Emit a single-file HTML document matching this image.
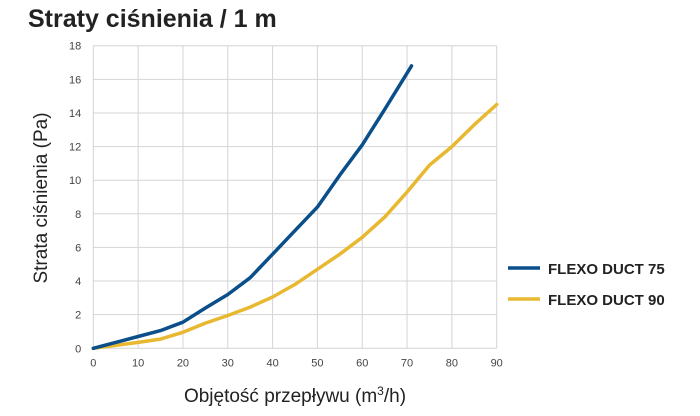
<!DOCTYPE html>
<html><head><meta charset="utf-8"><style>
body{margin:0;background:#fff;font-family:"Liberation Sans",sans-serif}
</style></head><body>
<svg width="700" height="411" xmlns="http://www.w3.org/2000/svg" font-family="Liberation Sans, sans-serif">
<text x="28" y="27" font-size="25" font-weight="bold" fill="#222">Straty ciśnienia / 1 m</text>
<g id="grid"></g>
<g id="ticks"></g>
<g id="series"></g>
<text transform="translate(47,198) rotate(-90)" text-anchor="middle" font-size="19" fill="#222">Strata ciśnienia (Pa)</text>
<text x="295" y="402" text-anchor="middle" font-size="19" fill="#222">Objętość przepływu (m<tspan font-size="12" dy="-7">3</tspan><tspan dy="7">/h)</tspan></text>
<g>
<line x1="508" y1="268" x2="540" y2="268" stroke="#0b4f8a" stroke-width="3.5"/>
<text x="548" y="274" font-size="15" font-weight="bold" fill="#222">FLEXO DUCT 75</text>
<line x1="508" y1="299" x2="540" y2="299" stroke="#e8b830" stroke-width="3.5"/>
<text x="548" y="305" font-size="15" font-weight="bold" fill="#222">FLEXO DUCT 90</text>
</g>
</svg>
<script>
const xTicks=[0,10,20,30,40,50,60,70,80,90];
const yTicks=[0,2,4,6,8,10,12,14,16,18];
const x75=[0,10,15,20,25,30,35,40,45,50,55,60,65,71];
const y75=[0,0.7,1.05,1.55,2.4,3.2,4.2,5.6,7.0,8.4,10.3,12.1,14.2,16.8];
const x90=[0,10,15,20,25,30,35,40,45,50,55,60,65,70,75,80,85,90];
const y90=[0,0.35,0.55,0.95,1.5,1.95,2.45,3.05,3.8,4.7,5.6,6.6,7.8,9.3,10.9,12.0,13.3,14.5];
const NS="http://www.w3.org/2000/svg";
const X=v=>93.3+v*(496.7-93.3)/90;
const Y=v=>348.3-v*(348.3-45.7)/18;
const grid=document.getElementById('grid'),ticks=document.getElementById('ticks'),series=document.getElementById('series');
function mk(t,a,p){const e=document.createElementNS(NS,t);for(const k in a)e.setAttribute(k,a[k]);p.appendChild(e);return e;}
xTicks.forEach(v=>{
 const l=mk('line',{x1:X(v),x2:X(v),y1:Y(18),y2:Y(0),stroke:'#d4d4d4','stroke-width':1},grid);
 
 
 const t=mk('text',{x:X(v),y:Y(0)+18,'text-anchor':'middle','font-size':11,fill:'#444'},ticks);
 t.textContent=v;
 
 
});
yTicks.forEach(v=>{
 const l=mk('line',{x1:X(0),x2:X(90),y1:Y(v),y2:Y(v),stroke:'#d4d4d4','stroke-width':1},grid);
 
 
 const t=mk('text',{x:X(0)-12,y:Y(v)+4,'text-anchor':'end','font-size':11,fill:'#444'},ticks);
 t.textContent=v;
 
 
});
function line(xs,ys,c,n){
 const d=xs.map((v,i)=>(i?'L':'M')+X(v).toFixed(1)+','+Y(ys[i]).toFixed(1)).join('');
 const p=mk('path',{d:d,fill:'none',stroke:c,'stroke-width':3.5,'stroke-linejoin':'round','stroke-linecap':'round'},series);
 
 
}
line(x90,y90,'#e8b830','line-flexo-duct-90');
line(x75,y75,'#0b4f8a','line-flexo-duct-75');
</script>
</body></html>
